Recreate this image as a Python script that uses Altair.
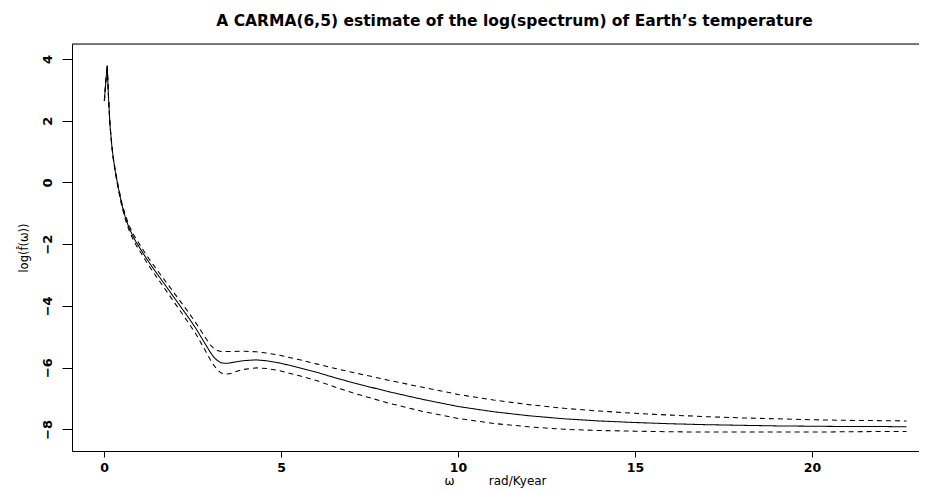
import altair as alt
import pandas as pd

# ---- data ----
omega = [0.01, 0.05, 0.09, 0.13, 0.17, 0.22, 0.26, 0.32, 0.40, 0.50, 0.60, 0.70,
         0.80, 0.90, 1.0, 1.2, 1.4, 1.6, 1.8, 2.0, 2.2, 2.4, 2.6, 2.8, 3.0, 3.1,
         3.2, 3.3, 3.4, 3.5, 3.6, 3.8, 4.0, 4.3, 4.6, 5.0, 5.5, 6.0, 6.5, 7.0,
         8.0, 9.0, 10, 11, 12, 13, 14, 15, 16, 17, 18, 19, 20, 21, 22, 22.67]

log_spec = [2.65, 3.25, 3.79, 2.70, 1.85, 1.20, 0.80, 0.35, -0.15, -0.70, -1.12, -1.45,
            -1.70, -1.92, -2.10, -2.47, -2.80, -3.12, -3.44, -3.76, -4.08, -4.40, -4.74, -5.12, -5.50, -5.66,
            -5.77, -5.84, -5.86, -5.86, -5.84, -5.80, -5.77, -5.75, -5.78, -5.86, -6.00, -6.15, -6.32, -6.48,
            -6.77, -7.03, -7.26, -7.43, -7.56, -7.66, -7.73, -7.78, -7.82, -7.85, -7.87, -7.89, -7.90, -7.91, -7.91, -7.92]

upper_band = [2.66, 3.26, 3.80, 2.72, 1.87, 1.23, 0.83, 0.39, -0.10, -0.64, -1.05, -1.37,
              -1.61, -1.82, -2.00, -2.36, -2.68, -2.99, -3.30, -3.61, -3.92, -4.23, -4.56, -4.92, -5.26, -5.38,
              -5.45, -5.48, -5.48, -5.48, -5.48, -5.47, -5.47, -5.49, -5.53, -5.61, -5.74, -5.88, -6.02, -6.15,
              -6.40, -6.64, -6.87, -7.05, -7.20, -7.32, -7.41, -7.48, -7.54, -7.59, -7.63, -7.66, -7.69, -7.71, -7.72, -7.73]

lower_band = [2.64, 3.24, 3.78, 2.68, 1.83, 1.17, 0.77, 0.31, -0.20, -0.76, -1.19, -1.53,
              -1.79, -2.02, -2.20, -2.58, -2.92, -3.25, -3.58, -3.91, -4.24, -4.57, -4.92, -5.32, -5.74, -5.92,
              -6.07, -6.17, -6.21, -6.21, -6.18, -6.10, -6.05, -6.01, -6.03, -6.11, -6.26, -6.42, -6.62, -6.81,
              -7.14, -7.42, -7.65, -7.81, -7.92, -8.00, -8.04, -8.06, -8.08, -8.09, -8.09, -8.09, -8.09, -8.08, -8.07, -8.07]

x_ticks = [0, 5, 10, 15, 20]
y_ticks = [-8, -6, -4, -2, 0, 2, 4]

title_text = "A CARMA(6,5) estimate of the log(spectrum) of Earth\u2019s temperature"
x_title = "\u03c9" + "\u00a0" * 9 + "rad/Kyear"
y_title = "log(f\u0302(\u03c9))"

FONT = "DejaVu Sans"
W, H = 847, 407

df = pd.DataFrame({"omega": omega, "est": log_spec,
                   "upper": upper_band, "lower": lower_band})

x_scale = alt.Scale(domain=[-0.904, 23.023], nice=False, zero=False)
y_scale = alt.Scale(domain=[-8.703, 4.486], nice=False, zero=False)

x_axis = alt.Axis(values=x_ticks, grid=False, labelFlush=False,
                  labelFont=FONT, labelFontWeight="bold", labelFontSize=12.5,
                  labelColor="black", labelPadding=4,
                  tickSize=6, tickColor="black", tickWidth=1,
                  domainColor="black", domainWidth=1,
                  title=x_title, titleFont=FONT, titleFontWeight="normal",
                  titleFontSize=12, titleColor="black",
                  titleX=423, titleY=24, titleAlign="center", titleBaseline="top")

y_axis = alt.Axis(values=y_ticks, grid=False, labelFlush=False,
                  labelFont=FONT, labelFontWeight="bold", labelFontSize=13,
                  labelColor="black", labelAngle=270, labelAlign="center",
                  labelBaseline="middle", labelPadding=15,
                  tickSize=10, tickColor="black", tickWidth=1,
                  domainColor="black", domainWidth=1,
                  title=y_title, titleFont=FONT, titleFontWeight="normal",
                  titleFontSize=11.5, titleColor="black", titleAngle=270,
                  titleX=-48, titleY=H / 2, titleAlign="center", titleBaseline="middle")

lines = alt.Chart(df).transform_fold(
    ["est", "upper", "lower"], as_=["series", "value"]
).mark_line(color="black", strokeWidth=1.05).encode(
    x=alt.X("omega:Q", scale=x_scale, axis=x_axis),
    y=alt.Y("value:Q", scale=y_scale, axis=y_axis),
    detail="series:N",
    strokeDash=alt.StrokeDash(
        "series:N",
        scale=alt.Scale(domain=["est", "upper", "lower"],
                        range=[[1, 0], [5, 4], [5, 4]]),
        legend=None),
)

frame_top = alt.Chart(pd.DataFrame({"k": [0]})).mark_rule(
    color="black", strokeWidth=1
).encode(x=alt.value(0), x2=alt.value(W), y=alt.value(0))

chart = alt.layer(lines, frame_top).properties(
    width=W, height=H,
    autosize=alt.AutoSizeParams(type="none"),
    padding={"left": 64, "top": 36, "right": 0, "bottom": 38},
    title=alt.TitleParams(text=title_text, font=FONT, fontSize=15.5,
                          fontWeight="bold", color="black", anchor="middle",
                          dx=19, dy=16, offset=15, baseline="bottom"),
).configure_view(stroke=None).configure(background="white")

chart.save("out.html", embed_options={"renderer": "svg", "actions": False})
